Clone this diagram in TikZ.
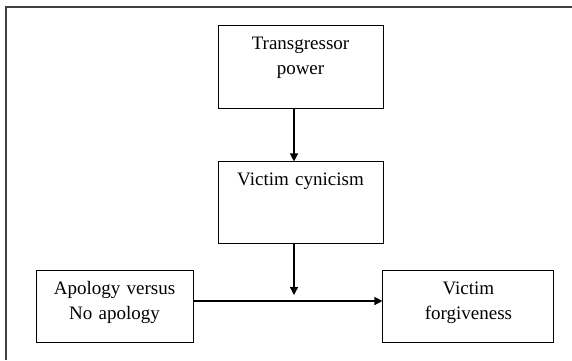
\documentclass[tikz,border=0pt]{standalone}
\usepackage{fontspec}
\setmainfont{Liberation Serif}
\usetikzlibrary{arrows.meta,positioning}

\begin{document}
\begin{tikzpicture}[
  x=1pt, y=-1pt,
  box/.style={rectangle, draw, line width=0.9pt, inner sep=0pt,
              align=center, text height=24pt,
              font=\fontsize{19}{25.5}\selectfont},
  arr/.style={-{Triangle[length=8pt, width=8pt]}, line width=1.3pt},
  frame/.style={draw=black!75, line width=1.2pt}
]
\useasboundingbox (0,0) rectangle (572,360);
\draw[frame] (6,360) |- (572,7);

\node[box, text width=165pt, text depth=59pt] (power) at (300.5,66.5)
  {Transgressor\\power};
\node[box, text width=165pt, text depth=58pt, below=53pt of power] (cynicism)
  {Victim cynicism};
\node[box, text width=157pt, text depth=48.5pt] (apology) at (114.5,306.5)
  {Apology versus\\No apology};
\node[box, text width=171pt, text depth=48.5pt, right=189pt of apology] (forgive)
  {Victim\\forgiveness};

\coordinate (merge) at (294,301);

\draw[arr] (power.south -| merge) -- (cynicism.north -| merge);
\draw[arr, shorten >=6pt] (cynicism.south -| merge) -- (merge);
\draw[arr] (apology.east |- merge) -- (forgive.west |- merge);
\end{tikzpicture}
\end{document}
